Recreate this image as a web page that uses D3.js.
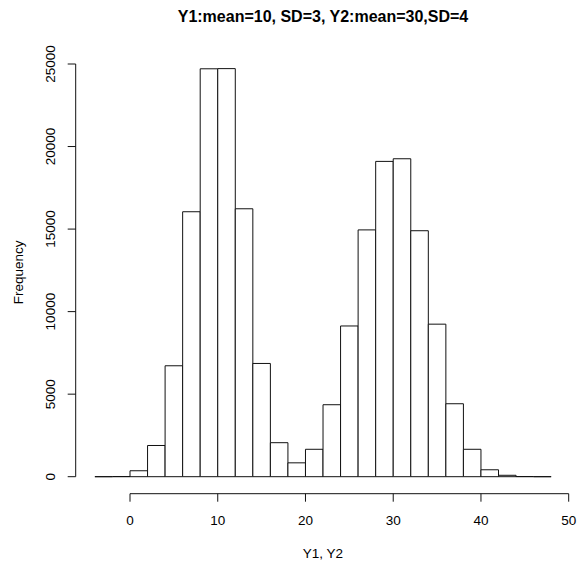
<!DOCTYPE html>
<html>
<head>
<meta charset="utf-8">
<script src="https://cdn.jsdelivr.net/npm/d3@7"></script>
<style>
  html, body { margin: 0; padding: 0; background: #fff; }
  svg { display: block; font-family: "Liberation Sans", Arial, sans-serif; }
</style>
</head>
<body>
<svg id="chart" width="577" height="565"></svg>
<script>
// ---- data ----
const binStart = -4;
const binWidth = 2;
const counts = [0, 10, 360, 1890, 6720, 16050, 24710, 24720, 16230, 6860, 2060, 840,
                1660, 4360, 9130, 14950, 19100, 19260, 14900, 9240, 4420, 1660, 420, 85, 10, 0];
const xTicks = [0, 10, 20, 30, 40, 50];
const yTicks = [0, 5000, 10000, 15000, 20000, 25000];
const title = "Y1:mean=10, SD=3, Y2:mean=30,SD=4";
const xLabel = "Y1, Y2";
const yLabel = "Frequency";

// ---- layout ----
const svg = d3.select("#chart");
const x = d3.scaleLinear().domain([0, 50]).range([130, 568.7]);
const y = d3.scaleLinear().domain([0, 25000]).range([476.7, 64]);

const bins = counts.map((c, i) => ({ x0: binStart + i * binWidth, x1: binStart + (i + 1) * binWidth, c }));

// bars
svg.append("g").selectAll("path").data(bins).join("path")
  .attr("d", d => `M${x(d.x0)},${y(0)}V${y(d.c)}H${x(d.x1)}V${y(0)}Z`)
  .attr("fill", "#fff")
  .attr("stroke", "#111")
  .attr("stroke-width", 1);

// x axis
const xAxis = svg.append("g").attr("transform", "translate(0,493.7)");
xAxis.append("line").attr("x1", x(0)).attr("x2", x(50)).attr("stroke", "#111");
xAxis.selectAll("line.t").data(xTicks).join("line").attr("class", "t")
  .attr("x1", d => x(d)).attr("x2", d => x(d)).attr("y1", 0).attr("y2", 8).attr("stroke", "#111");
xAxis.selectAll("text").data(xTicks).join("text")
  .attr("x", d => x(d)).attr("y", 31).attr("text-anchor", "middle")
  .attr("font-size", 13.5).attr("fill", "#000").text(d => d);

// y axis
const yAxis = svg.append("g").attr("transform", "translate(75.7,0)");
yAxis.append("line").attr("y1", y(0)).attr("y2", y(25000)).attr("stroke", "#111");
yAxis.selectAll("line.t").data(yTicks).join("line").attr("class", "t")
  .attr("y1", d => y(d)).attr("y2", d => y(d)).attr("x1", 0).attr("x2", -8).attr("stroke", "#111");
yAxis.selectAll("text").data(yTicks).join("text")
  .attr("transform", d => `translate(-25,${y(d)}) rotate(-90)`)
  .attr("text-anchor", "middle").attr("dy", "0.35em")
  .attr("font-size", 13.5).attr("fill", "#000").text(d => d);

// labels
svg.append("text").attr("x", 323).attr("y", 22).attr("text-anchor", "middle")
  .attr("font-size", 16).attr("font-weight", "bold").attr("fill", "#000").text(title);
svg.append("text").attr("x", 323).attr("y", 558).attr("text-anchor", "middle")
  .attr("font-size", 13.5).attr("fill", "#000").text(xLabel);
svg.append("text").attr("transform", "translate(18,272.4) rotate(-90)")
  .attr("text-anchor", "middle").attr("dy", "0.35em")
  .attr("font-size", 13.5).attr("fill", "#000").text(yLabel);
</script>
</body>
</html>
